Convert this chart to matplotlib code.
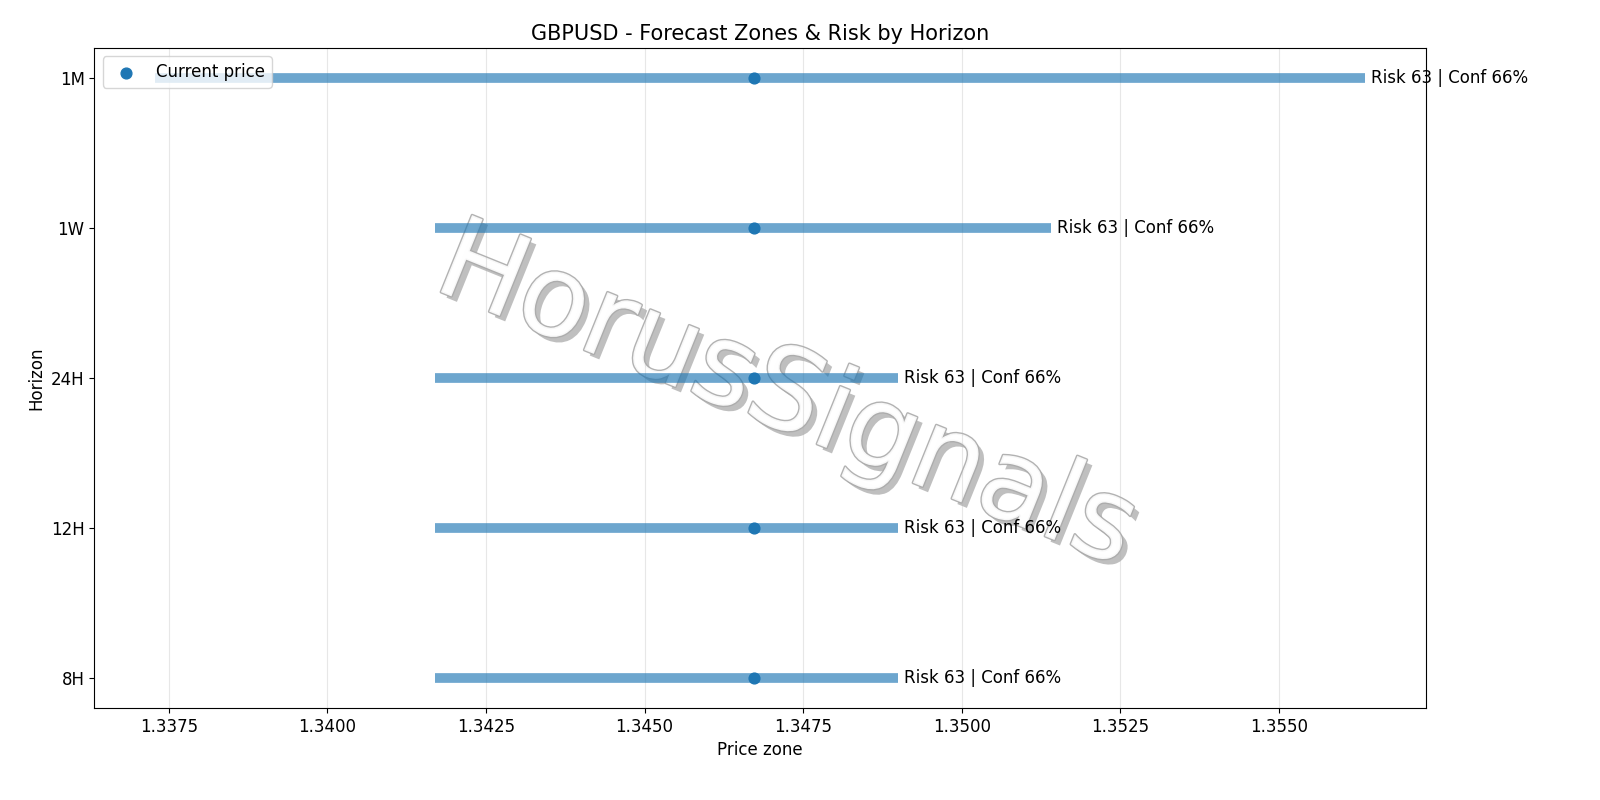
import matplotlib
matplotlib.use("Agg")
import matplotlib.pyplot as plt
import matplotlib.patheffects as pe

horizons = ["8H", "12H", "24H", "1W", "1M"]
low = [1.34169, 1.34169, 1.34169, 1.34169, 1.33728]
high = [1.34899, 1.34899, 1.34899, 1.35141, 1.35636]
current = 1.34672
labels = ["Risk 63 | Conf 66%"] * 5

fig, ax = plt.subplots(figsize=(16, 8), dpi=100)
fig.subplots_adjust(left=0.059, right=0.891, top=0.94, bottom=0.115)
y = list(range(len(horizons)))
for i in y:
    ax.hlines(i, low[i], high[i], lw=7, color="#1f77b4", alpha=0.65)
    ax.text(high[i] + 0.0001, i, labels[i], va="center", ha="left", fontsize=12)
ax.scatter([current] * len(y), y, color="#1f77b4", s=60, zorder=3, label="Current price")
ax.set_yticks(y)
ax.set_yticklabels(horizons)
ax.set_xlabel("Price zone", fontsize=12)
ax.set_ylabel("Horizon", fontsize=12)
ax.set_title("GBPUSD - Forecast Zones & Risk by Horizon", fontsize=15)
ax.tick_params(labelsize=12)
ax.grid(axis="x", alpha=0.3)
ax.legend(loc="upper left", fontsize=12)
ax.text(0.52, 0.47, "HorusSignals", transform=ax.transAxes, fontsize=82,
        rotation=-22, ha="center", va="center", color="white", alpha=0.9,
        path_effects=[pe.withSimplePatchShadow(offset=(4, -4), shadow_rgbFace="gray", alpha=0.5),
                      pe.Stroke(linewidth=2, foreground="#aaaaaa"), pe.Normal()], zorder=0)
fig.savefig("out.png")
